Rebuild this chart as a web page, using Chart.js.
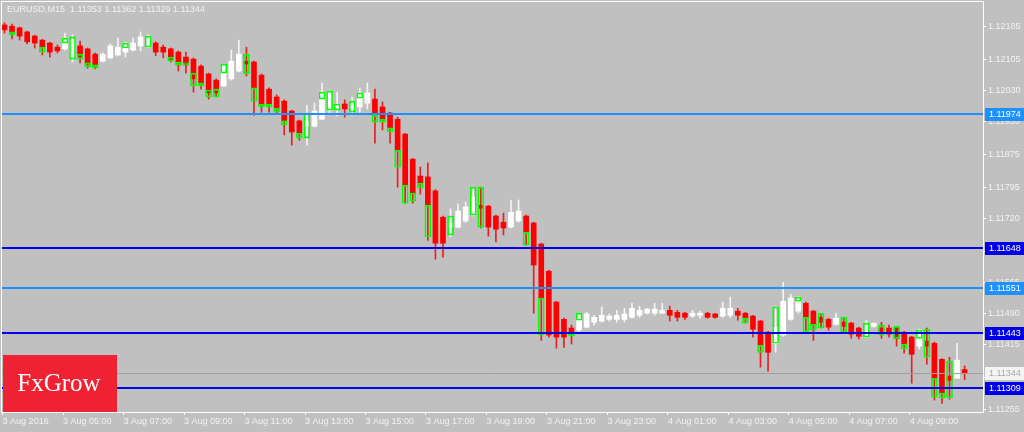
<!DOCTYPE html>
<html>
<head>
<meta charset="utf-8">
<title>EURUSD,M15</title>
<script src="https://cdn.jsdelivr.net/npm/chart.js@4.4.1/dist/chart.umd.min.js"></script>
<style>
  html, body { margin: 0; padding: 0; background: #c0c0c0; }
  #wrap { position: relative; width: 1024px; height: 432px; }
</style>
</head>
<body>
<div id="wrap"><canvas id="chart"></canvas></div>
<script>
const timeLabels = ['3 Aug 2016', '3 Aug 05:00', '3 Aug 07:00', '3 Aug 09:00', '3 Aug 11:00', '3 Aug 13:00',
  '3 Aug 15:00', '3 Aug 17:00', '3 Aug 19:00', '3 Aug 21:00', '3 Aug 23:00', '4 Aug 01:00',
  '4 Aug 03:00', '4 Aug 05:00', '4 Aug 07:00', '4 Aug 09:00'];

const yTicks = [1.11255, 1.11335, 1.11415, 1.11490, 1.11565, 1.11640, 1.11720, 1.11795, 1.11875, 1.11955, 1.12030, 1.12105, 1.12185];

const open = [
  1.12190, 1.12187, 1.12183, 1.12173, 1.12163, 1.12153, 1.12146, 1.12136, 1.12132, 1.12112,
  1.12139, 1.12132, 1.12119, 1.12102, 1.12110, 1.12117, 1.12124, 1.12129, 1.12139, 1.12136,
  1.12146, 1.12136, 1.12132, 1.12124, 1.12112, 1.12107, 1.12090, 1.12071, 1.12056, 1.12042,
  1.12059, 1.12078, 1.12102, 1.12100, 1.12068, 1.12034, 1.12015, 1.12005, 1.11981, 1.11957,
  1.11944, 1.11944, 1.11961, 1.11983, 1.11988, 1.11998, 1.11986, 1.11991, 1.12000, 1.12010,
  1.11991, 1.11976, 1.11961, 1.11925, 1.11864, 1.11823, 1.11821, 1.11787, 1.11723, 1.11699,
  1.11699, 1.11714, 1.11728, 1.11752, 1.11750, 1.11726, 1.11711, 1.11699, 1.11714, 1.11726,
  1.11709, 1.11658, 1.11592, 1.11517, 1.11475, 1.11454, 1.11449, 1.11456, 1.11468, 1.11471,
  1.11475, 1.11475, 1.11475, 1.11480, 1.11485, 1.11490, 1.11490, 1.11490, 1.11497, 1.11492,
  1.11490, 1.11483, 1.11485, 1.11490, 1.11488, 1.11483, 1.11485, 1.11495, 1.11490, 1.11483,
  1.11471, 1.11444, 1.11417, 1.11437, 1.11475, 1.11495, 1.11514, 1.11495, 1.11480, 1.11475,
  1.11463, 1.11468, 1.11466, 1.11454, 1.11432, 1.11458, 1.11454, 1.11454, 1.11454, 1.11444,
  1.11432, 1.11410, 1.11422, 1.11417, 1.11378, 1.11337, 1.11332, 1.11353];

const high = [
  1.12195, 1.12192, 1.12185, 1.12175, 1.12165, 1.12155, 1.12148, 1.12141, 1.12170, 1.12166,
  1.12151, 1.12134, 1.12122, 1.12122, 1.12144, 1.12158, 1.12148, 1.12158, 1.12173, 1.12166,
  1.12149, 1.12141, 1.12134, 1.12127, 1.12124, 1.12110, 1.12093, 1.12073, 1.12059, 1.12095,
  1.12129, 1.12153, 1.12136, 1.12102, 1.12071, 1.12037, 1.12020, 1.12008, 1.11983, 1.11959,
  1.11995, 1.12000, 1.12049, 1.12029, 1.12027, 1.12008, 1.12015, 1.12037, 1.12049, 1.12034,
  1.12003, 1.11978, 1.11966, 1.11927, 1.11866, 1.11845, 1.11855, 1.11790, 1.11726, 1.11743,
  1.11755, 1.11760, 1.11796, 1.11796, 1.11752, 1.11728, 1.11733, 1.11765, 1.11765, 1.11728,
  1.11711, 1.11660, 1.11594, 1.11519, 1.11478, 1.11461, 1.11490, 1.11492, 1.11485, 1.11505,
  1.11488, 1.11497, 1.11502, 1.11514, 1.11507, 1.11502, 1.11514, 1.11514, 1.11507, 1.11497,
  1.11492, 1.11497, 1.11495, 1.11492, 1.11490, 1.11517, 1.11529, 1.11502, 1.11492, 1.11485,
  1.11473, 1.11446, 1.11505, 1.11565, 1.11536, 1.11531, 1.11517, 1.11497, 1.11490, 1.11478,
  1.11490, 1.11480, 1.11468, 1.11456, 1.11473, 1.11466, 1.11468, 1.11461, 1.11458, 1.11446,
  1.11434, 1.11451, 1.11454, 1.11420, 1.11380, 1.11383, 1.11417, 1.11362];

const low = [
  1.12170, 1.12156, 1.12153, 1.12144, 1.12134, 1.12117, 1.12112, 1.12122, 1.12129, 1.12100,
  1.12098, 1.12085, 1.12083, 1.12100, 1.12107, 1.12115, 1.12112, 1.12127, 1.12127, 1.12134,
  1.12115, 1.12110, 1.12100, 1.12078, 1.12073, 1.12027, 1.12034, 1.12010, 1.12015, 1.12040,
  1.12056, 1.12076, 1.12066, 1.11971, 1.11978, 1.11978, 1.11976, 1.11923, 1.11898, 1.11910,
  1.11898, 1.11942, 1.11961, 1.11976, 1.11969, 1.11966, 1.11971, 1.11978, 1.11986, 1.11903,
  1.11935, 1.11903, 1.11796, 1.11757, 1.11757, 1.11779, 1.11667, 1.11621, 1.11626, 1.11675,
  1.11697, 1.11711, 1.11726, 1.11697, 1.11677, 1.11663, 1.11680, 1.11697, 1.11711, 1.11655,
  1.11490, 1.11424, 1.11432, 1.11405, 1.11407, 1.11415, 1.11446, 1.11454, 1.11461, 1.11468,
  1.11471, 1.11468, 1.11468, 1.11478, 1.11480, 1.11488, 1.11485, 1.11490, 1.11471, 1.11471,
  1.11475, 1.11480, 1.11478, 1.11478, 1.11478, 1.11480, 1.11480, 1.11473, 1.11466, 1.11432,
  1.11359, 1.11349, 1.11395, 1.11434, 1.11473, 1.11490, 1.11446, 1.11424, 1.11454, 1.11449,
  1.11461, 1.11444, 1.11429, 1.11427, 1.11432, 1.11456, 1.11429, 1.11432, 1.11410, 1.11393,
  1.11320, 1.11403, 1.11366, 1.11279, 1.11271, 1.11281, 1.11332, 1.11329];

const close = [
  1.12178, 1.12170, 1.12163, 1.12149, 1.12146, 1.12136, 1.12124, 1.12127, 1.12158, 1.12153,
  1.12112, 1.12095, 1.12090, 1.12119, 1.12139, 1.12136, 1.12146, 1.12146, 1.12161, 1.12163,
  1.12124, 1.12124, 1.12105, 1.12093, 1.12093, 1.12059, 1.12044, 1.12025, 1.12025, 1.12093,
  1.12102, 1.12119, 1.12095, 1.12037, 1.11995, 1.11998, 1.11988, 1.11957, 1.11930, 1.11927,
  1.11957, 1.11981, 1.12027, 1.12029, 1.11995, 1.11986, 1.11998, 1.12025, 1.12025, 1.11971,
  1.11959, 1.11940, 1.11886, 1.11801, 1.11782, 1.11806, 1.11752, 1.11660, 1.11660, 1.11709,
  1.11738, 1.11748, 1.11772, 1.11745, 1.11699, 1.11694, 1.11697, 1.11735, 1.11738, 1.11687,
  1.11607, 1.11527, 1.11437, 1.11432, 1.11432, 1.11441, 1.11485, 1.11488, 1.11480, 1.11485,
  1.11483, 1.11485, 1.11488, 1.11502, 1.11497, 1.11500, 1.11500, 1.11497, 1.11485, 1.11480,
  1.11480, 1.11490, 1.11490, 1.11480, 1.11480, 1.11502, 1.11502, 1.11485, 1.11478, 1.11451,
  1.11412, 1.11395, 1.11456, 1.11519, 1.11527, 1.11529, 1.11480, 1.11463, 1.11468, 1.11456,
  1.11478, 1.11458, 1.11439, 1.11434, 1.11466, 1.11466, 1.11444, 1.11439, 1.11429, 1.11415,
  1.11390, 1.11449, 1.11410, 1.11332, 1.11296, 1.11327, 1.11376, 1.11344];

// second overlay drawn as green outlined boxes
const overlayIdx = [1, 5, 8, 9, 10, 11, 12, 16, 19, 22, 23, 24, 25, 26, 27, 28, 29, 32, 33, 34,
  35, 36, 37, 39, 40, 42, 43, 44, 46, 47, 49, 50, 51, 52, 53, 54, 55, 56, 59, 62,
  63, 69, 71, 75, 76, 98, 100, 102, 105, 106, 107, 108, 111, 114, 116, 118, 119, 121, 122, 123,
  124, 125];
const overlayLow = [1.12166, 1.12124, 1.12146, 1.12107, 1.12107, 1.12088, 1.12085, 1.12134, 1.12136, 1.12102,
  1.12093, 1.12093, 1.12042, 1.12042, 1.12015, 1.12015, 1.12073, 1.12071, 1.12005, 1.11991,
  1.11991, 1.11978, 1.11947, 1.11915, 1.11915, 1.12010, 1.11983, 1.11983, 1.11978, 1.12012,
  1.11954, 1.11954, 1.11930, 1.11845, 1.11757, 1.11762, 1.11794, 1.11675, 1.11680, 1.11728,
  1.11699, 1.11655, 1.11437, 1.11434, 1.11473, 1.11466, 1.11395, 1.11417, 1.11519, 1.11446,
  1.11449, 1.11454, 1.11444, 1.11432, 1.11437, 1.11429, 1.11403, 1.11429, 1.11383, 1.11286,
  1.11284, 1.11284];
const overlayHigh = [1.12173, 1.12136, 1.12158, 1.12161, 1.12119, 1.12098, 1.12093, 1.12146, 1.12163, 1.12112,
  1.12100, 1.12098, 1.12073, 1.12049, 1.12032, 1.12034, 1.12095, 1.12119, 1.12037, 1.11998,
  1.11998, 1.11988, 1.11957, 1.11927, 1.11976, 1.12027, 1.12029, 1.11998, 1.12005, 1.12025,
  1.11971, 1.11961, 1.11940, 1.11886, 1.11801, 1.11782, 1.11806, 1.11752, 1.11726, 1.11796,
  1.11796, 1.11687, 1.11527, 1.11441, 1.11490, 1.11478, 1.11412, 1.11505, 1.11529, 1.11480,
  1.11463, 1.11490, 1.11480, 1.11466, 1.11461, 1.11458, 1.11415, 1.11449, 1.11451, 1.11332,
  1.11296, 1.11373];

const levels = [1.11974, 1.11648, 1.11551, 1.11443, 1.11309];
const levelColors = ['#1e90ff', '#0000ee', '#1e90ff', '#0000ee', '#0000ee'];
const lastPrice = 1.11344;
const titleText = 'EURUSD,M15  1.11353 1.11362 1.11329 1.11344';

Chart.defaults.font.family = '"Liberation Sans", Arial, sans-serif';

const isUp = (i) => close[i] >= open[i];

const chartDecor = {
  id: 'chartDecor',
  beforeDraw(chart) {
    const ctx = chart.ctx;
    ctx.save();
    ctx.fillStyle = '#c0c0c0';
    ctx.fillRect(0, 0, chart.width, chart.height);
    ctx.restore();
  },
  afterDatasetsDraw(chart) {
    const ctx = chart.ctx;
    const ca = chart.chartArea;
    const y = chart.scales.y;
    ctx.save();
    // current price line
    const py = Math.round(y.getPixelForValue(lastPrice)) + 0.5;
    ctx.strokeStyle = '#a0a0a0';
    ctx.lineWidth = 1;
    ctx.beginPath();
    ctx.moveTo(ca.left, py);
    ctx.lineTo(ca.right, py);
    ctx.stroke();
    levels.forEach((lv, k) => {
      const ly = Math.round(y.getPixelForValue(lv));
      ctx.strokeStyle = levelColors[k];
      ctx.lineWidth = 2;
      ctx.beginPath();
      ctx.moveTo(ca.left, ly);
      ctx.lineTo(ca.right, ly);
      ctx.stroke();
    });
    ctx.restore();
  },
  afterDraw(chart) {
    const ctx = chart.ctx;
    const ca = chart.chartArea;
    const y = chart.scales.y;
    ctx.save();
    ctx.strokeStyle = '#ffffff';
    ctx.lineWidth = 1;
    ctx.strokeRect(ca.left - 0.5, ca.top - 0.5, ca.right - ca.left + 1, ca.bottom - ca.top + 1);

    ctx.font = '9px "Liberation Sans", Arial, sans-serif';
    ctx.textBaseline = 'middle';
    ctx.textAlign = 'left';

    // price boxes on the right axis
    const box = (price, fill, color) => {
      const by = Math.round(y.getPixelForValue(price));
      ctx.fillStyle = fill;
      ctx.fillRect(ca.right + 2, by - 6, chart.width - ca.right - 2, 13);
      ctx.fillStyle = color;
      ctx.fillText(price.toFixed(5), ca.right + 6, by + 0.5);
    };
    box(lastPrice, '#f4f4f4', '#a8a8a8');
    levels.forEach((lv, k) => box(lv, levelColors[k] === '#1e90ff' ? '#1e90ff' : '#0000e6', '#ffffff'));

    ctx.fillStyle = '#f2f2f2';
    ctx.fillText(titleText, 7, 10);

    // logo
    ctx.fillStyle = '#ee2233';
    ctx.fillRect(3, 355, 114, ca.bottom - 355);
    ctx.fillStyle = '#ffffff';
    ctx.font = '25px "Liberation Serif", "DejaVu Serif", serif';
    ctx.textAlign = 'center';
    ctx.textBaseline = 'alphabetic';
    ctx.fillText('FxGrow', 59, 391);
    ctx.restore();
  }
};

const wickData = open.map((o, i) => ({ x: i, y: [low[i], high[i]] }));
const bodyData = open.map((o, i) => ({ x: i, y: [o, close[i]] }));
const overlayData = overlayIdx.map((idx, k) => ({ x: idx, y: [overlayLow[k], overlayHigh[k]] }));

new Chart(document.getElementById('chart'), {
  type: 'bar',
  data: {
    datasets: [
      {
        label: 'overlay',
        data: overlayData,
        backgroundColor: 'rgba(0,0,0,0)',
        borderColor: '#00ff00',
        borderWidth: 1,
        borderSkipped: false,
        barThickness: 6,
        grouped: false,
        order: 1
      },
      {
        label: 'body',
        data: bodyData,
        backgroundColor: open.map((o, i) => isUp(i) ? '#ffffff' : '#ff0000'),
        borderWidth: 0,
        barThickness: 5,
        grouped: false,
        order: 2
      },
      {
        label: 'wick',
        data: wickData,
        backgroundColor: open.map((o, i) => isUp(i) ? '#f4f4f4' : '#e82020'),
        borderWidth: 0,
        barThickness: 1,
        grouped: false,
        order: 3
      }
    ]
  },
  options: {
    responsive: true,
    maintainAspectRatio: false,
    animation: false,
    layout: { padding: { left: 2, top: 2, right: 0, bottom: 0 } },
    plugins: {
      legend: { display: false },
      tooltip: { enabled: false }
    },
    scales: {
      x: {
        type: 'linear',
        min: -0.33,
        max: 129.43,
        bounds: 'data',
        offset: false,
        afterBuildTicks: (scale) => {
          scale.ticks = timeLabels.map((t, k) => ({ value: k * 8 - 0.25 }));
        },
        afterFit: (scale) => {
          scale.height = 20;
          scale.paddingLeft = 0;
          scale.paddingRight = 0;
        },
        ticks: {
          autoSkip: false,
          maxRotation: 0,
          align: 'start',
          padding: 1,
          color: '#f2f2f2',
          font: { size: 9 },
          callback: (value) => timeLabels[Math.round((value + 0.25) / 8)]
        },
        grid: {
          offset: false,
          drawOnChartArea: false,
          drawTicks: true,
          tickLength: 3,
          tickColor: '#ffffff'
        },
        border: { display: true, color: '#ffffff' }
      },
      y: {
        type: 'linear',
        position: 'right',
        min: 1.112501,
        max: 1.122457,
        bounds: 'data',
        beginAtZero: false,
        afterBuildTicks: (scale) => {
          scale.ticks = yTicks.map((v) => ({ value: v }));
        },
        afterFit: (scale) => {
          scale.width = 41;
          scale.paddingTop = 0;
          scale.paddingBottom = 0;
        },
        ticks: {
          autoSkip: false,
          padding: 2,
          color: '#f2f2f2',
          font: { size: 9 },
          callback: (value) => value.toFixed(5)
        },
        grid: {
          drawOnChartArea: false,
          drawTicks: true,
          tickLength: 3,
          tickColor: '#ffffff'
        },
        border: { display: true, color: '#ffffff' }
      }
    }
  },
  plugins: [chartDecor]
});
</script>
</body>
</html>
